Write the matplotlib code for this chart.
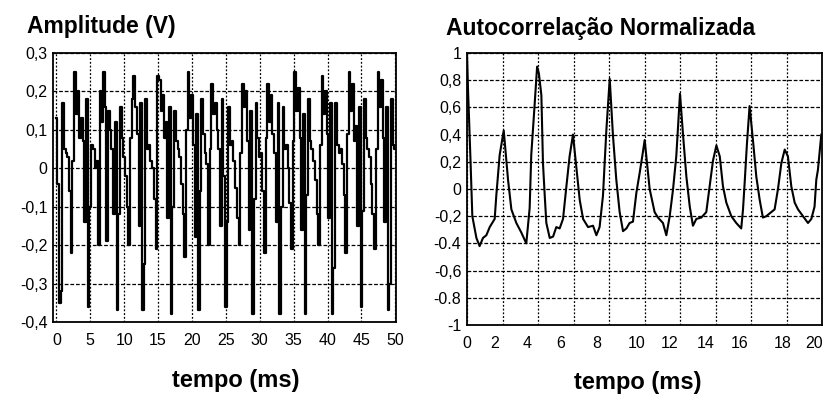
import numpy as np
import matplotlib
matplotlib.use("Agg")
import matplotlib.pyplot as plt
from matplotlib.transforms import ScaledTranslation

plt.rcParams["font.family"] = ["Liberation Sans", "DejaVu Sans"]

# speech segment, sampled every 0.25 ms, one list per pitch period
dt = 0.25
lead = [0.13, -0.04]
p01 = [-0.35, -0.32, 0.17, 0.05, 0.04, 0.03, -0.06, -0.22, 0.02, 0.25, 0.14, 0.20, 0.08, 0.13, 0.07, -0.14, 0.18]
p02 = [-0.36, -0.10, 0.06, 0.05, 0.00, 0.02, -0.20, 0.20, 0.12, 0.25, 0.16, -0.19, 0.15, 0.10, 0.05, -0.12, 0.12]
p03 = [-0.37, -0.12, 0.16, 0.08, 0.03, -0.02, -0.10, -0.20, 0.08, 0.18, 0.24, 0.16, 0.09, -0.15, 0.17]
p04 = [-0.37, -0.25, 0.18, 0.05, 0.06, 0.02, 0.00, -0.08, -0.21, 0.24, 0.23, 0.15, 0.19, 0.08, 0.12, -0.13, 0.16]
p05 = [-0.38, -0.10, 0.15, 0.07, 0.05, 0.03, -0.04, -0.12, -0.23, 0.10, 0.25, 0.13, 0.19, 0.06, -0.18, 0.14]
p06 = [-0.37, -0.06, 0.18, 0.09, 0.04, 0.01, -0.20, 0.05, 0.22, 0.14, 0.17, 0.10, 0.05, -0.15, 0.18, -0.02]
p07 = [-0.36, -0.14, 0.16, 0.06, 0.07, 0.02, -0.05, -0.13, -0.20, 0.04, 0.22, 0.16, 0.20, 0.07, -0.16, 0.15]
p08 = [-0.38, -0.08, 0.17, 0.08, 0.03, 0.04, -0.06, -0.22, 0.08, 0.22, 0.12, 0.19, 0.09, 0.04, -0.14, 0.17]
p09 = [-0.38, -0.10, 0.16, 0.05, 0.06, 0.00, -0.09, -0.21, 0.07, 0.25, 0.15, 0.21, 0.08, -0.16, 0.14]
p10 = [-0.38, -0.07, 0.18, 0.07, 0.05, 0.02, -0.03, -0.12, -0.20, 0.06, 0.24, 0.14, 0.20, 0.09, -0.13, 0.17]
p11 = [-0.38, -0.26, 0.17, 0.06, 0.04, 0.05, 0.01, -0.07, -0.22, 0.09, 0.25, 0.15, 0.22, 0.07, 0.11, -0.15, 0.16]
p12 = [-0.36, -0.11, 0.18, 0.08, 0.05, 0.03, -0.04, -0.12, -0.21, 0.05, 0.25, 0.16, 0.23, 0.08, -0.14, 0.16]
tail = [-0.37, -0.30, 0.18, 0.06, 0.05]

sig = np.array(lead + p01 + p02 + p03 + p04 + p05 + p06 + p07 + p08 + p09 + p10 + p11 + p12 + tail)
t_sig = np.arange(len(sig)) * dt

# normalised autocorrelation (lag in ms, value)
lag = [0.0, 0.06, 0.12, 0.2, 0.3, 0.53, 0.71, 0.9, 1.09, 1.28, 1.56, 1.65, 1.84, 2.07, 2.31, 2.5,
       2.78, 3.06, 3.34, 3.53, 3.62, 3.8, 3.95, 4.05, 4.19, 4.28, 4.38, 4.47, 4.66, 4.85, 5.03, 5.22,
       5.41, 5.6, 5.78, 5.97, 6.16, 6.35, 6.54, 6.82, 7.1, 7.29, 7.47, 7.66, 7.85, 8.04, 8.22, 8.41,
       8.6, 8.79, 8.98, 9.16, 9.35, 9.54, 9.73, 9.92, 10.01, 10.29, 10.57, 10.76, 11.04, 11.23, 11.42,
       11.61, 11.79, 12.0, 12.17, 12.36, 12.55, 12.73, 12.92, 13.2, 13.48, 13.67, 13.86, 14.05, 14.24,
       14.42, 14.61, 14.89, 15.17, 15.45, 15.55, 15.64, 15.77, 15.92, 16.11, 16.3, 16.49, 16.67, 16.86,
       17.14, 17.33, 17.52, 17.71, 17.9, 18.08, 18.27, 18.46, 18.65, 18.93, 19.21, 19.4, 19.58, 19.68,
       19.77, 19.96]
acf = [1.0, 0.72, 0.5, 0.2, -0.2, -0.36, -0.42, -0.36, -0.34, -0.28, -0.22, -0.05, 0.25, 0.43, 0.07, -0.15,
       -0.25, -0.32, -0.4, -0.14, 0.25, 0.6, 0.9, 0.85, 0.69, 0.19, -0.05, -0.25, -0.36, -0.35, -0.28, -0.29,
       -0.22, 0.02, 0.24, 0.4, 0.16, -0.08, -0.22, -0.28, -0.27, -0.34, -0.28, -0.05, 0.43, 0.81, 0.4, 0.07,
       -0.17, -0.31, -0.29, -0.25, -0.24, -0.03, 0.12, 0.28, 0.36, 0.0, -0.17, -0.21, -0.25, -0.34, -0.2,
       0.0, 0.24, 0.7, 0.4, 0.09, -0.13, -0.27, -0.22, -0.21, -0.17, 0.02, 0.21, 0.32, 0.24,
       0.02, -0.1, -0.2, -0.25, -0.29, -0.15, 0.04, 0.33, 0.61, 0.36, 0.09, -0.08, -0.21, -0.2,
       -0.17, -0.15, 0.0, 0.19, 0.29, 0.24, 0.02, -0.1, -0.15, -0.2, -0.25, -0.22, -0.13, 0.07,
       0.14, 0.4]

sig_yticks = [0.3, 0.2, 0.1, 0, -0.1, -0.2, -0.3, -0.4]
sig_ylabels = ["0,3", "0,2", "0,1", "0", "-0,1", "-0,2", "-0,3", "-0,4"]
sig_xticks = [0, 5, 10, 15, 20, 25, 30, 35, 40, 45, 50]
acf_yticks = [1, 0.8, 0.6, 0.4, 0.2, 0, -0.2, -0.4, -0.6, -0.8, -1]
acf_ylabels = ["1", "0,8", "0,6", "0,4", "0,2", "0", "-0,2", "-0.4", "-0,6", "-0.8", "-1"]
acf_xticks = [0, 2, 4, 6, 8, 10, 12, 14, 16, 18, 20]
# the lag labels sit a little left of their grid lines (pixels)
acf_xlabel_shift = [0, -8, -11, -13, -12, -8, -10, -10, -11, -4, -8]

W, H = 826, 394
fig = plt.figure(figsize=(W / 100, H / 100), dpi=100)
ax1 = fig.add_axes([53 / W, 1 - 322 / H, (396 - 53) / W, (322 - 53) / H])
ax2 = fig.add_axes([467 / W, 1 - 325 / H, (822 - 467) / W, (325 - 53) / H])

def style(ax, xticks, yticks, ylabels):
    ax.set_xticks(xticks)
    ax.set_xticklabels([str(x) for x in xticks])
    ax.set_yticks(yticks)
    ax.set_yticklabels(ylabels)
    ax.tick_params(length=0, labelsize=11.5, colors="black")
    ax.tick_params(axis="x", pad=8)
    ax.tick_params(axis="y", pad=4)
    for s in ax.spines.values():
        s.set_linewidth(1.3)
        s.set_color("black")
    ax.grid(axis="y", color="black", linewidth=0.9, linestyle=(0, (3, 1.5)))
    ax.grid(axis="x", color="black", linewidth=0.9, linestyle=(0, (1.5, 1.5)))
    ax.set_axisbelow(True)

ax1.plot(t_sig, sig, color="black", linewidth=1.6, drawstyle="steps-mid")
ax1.set_xlim(-0.5, 50.1)
ax1.set_ylim(-0.4, 0.3)
style(ax1, sig_xticks, sig_yticks, sig_ylabels)

ax2.plot(lag, acf, color="black", linewidth=1.5)
ax2.set_xlim(0, 20)
ax2.set_ylim(-1, 1)
style(ax2, acf_xticks, acf_yticks, acf_ylabels)
for lbl, dx in zip(ax2.get_xticklabels(), acf_xlabel_shift):
    lbl.set_transform(lbl.get_transform() + ScaledTranslation(dx / 100, 0, fig.dpi_scale_trans))

fig.text(27 / W, 1 - 27 / H, "Amplitude (V)", fontsize=16.5, fontweight="bold",
         ha="left", va="center")
fig.text(446 / W, 1 - 28 / H, "Autocorrelação Normalizada", fontsize=16.5, fontweight="bold",
         ha="left", va="center")
fig.text(236 / W, 1 - 380 / H, "tempo (ms)", fontsize=17, fontweight="bold",
         ha="center", va="center")
fig.text(638 / W, 1 - 382 / H, "tempo (ms)", fontsize=17, fontweight="bold",
         ha="center", va="center")

fig.savefig("out.png", dpi=100, facecolor="white")
